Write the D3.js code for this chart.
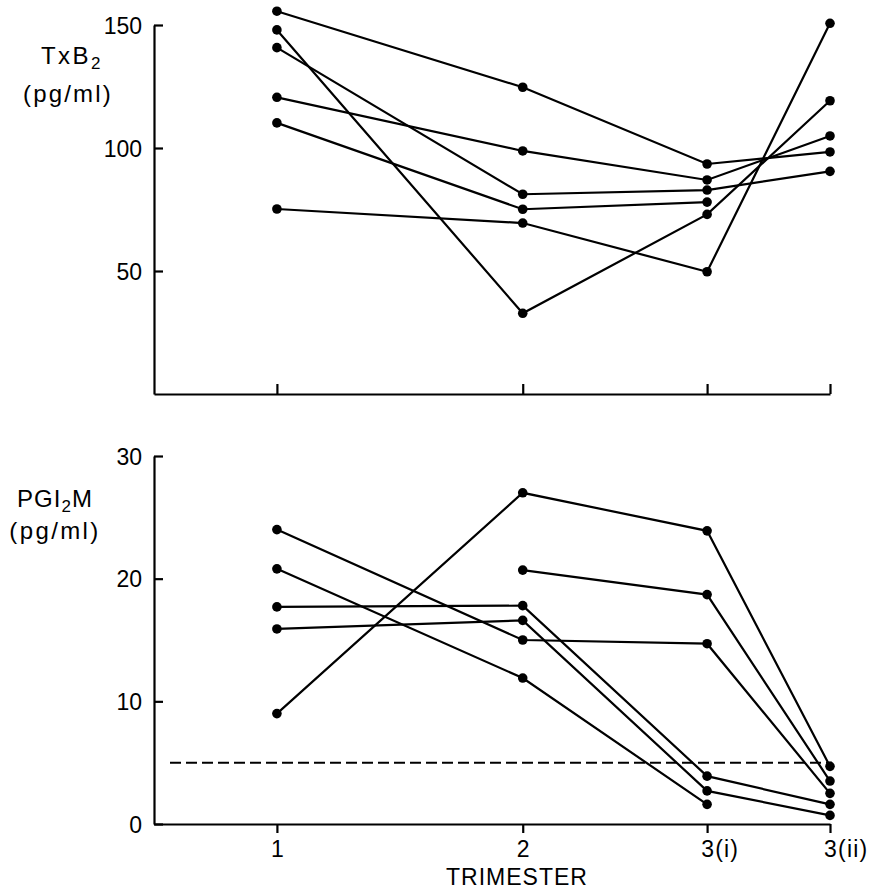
<!DOCTYPE html>
<html>
<head>
<meta charset="utf-8">
<script src="https://cdn.jsdelivr.net/npm/d3@7"></script>
<style>
  html, body { margin: 0; padding: 0; background: #fff; }
  svg { display: block; }
  text { font-family: "Liberation Sans", Arial, Helvetica, sans-serif; fill: #000; }
</style>
</head>
<body>
<svg id="chart" width="871" height="889"></svg>
<script>
// ---- data ----
const categories = ["1", "2", "3(i)", "3(ii)"];
const trimesterPos = [1, 2, 2.75, 3.25];

const txb2Ticks = [50, 100, 150];
const txb2Series = [
  [155.6, 124.7, 93.5, 98.4],
  [148.0, 32.8, 73.0, 119.2],
  [140.8, 81.2, 82.9, 90.5],
  [120.6, 98.8, 87.0, 104.9],
  [110.2, 75.1, 78.0, null],
  [75.2, 69.5, 49.7, 150.7]
];

const pgiTicks = [0, 10, 20, 30];
const pgiSeries = [
  [24.0, 15.0, 14.7, 2.5],
  [20.8, 11.9, 1.6, null],
  [17.7, 17.8, 3.9, 1.6],
  [15.9, 16.6, 2.7, 0.7],
  [9.0, 27.0, 23.9, 4.7],
  [null, 20.7, 18.7, 3.5]
];
const pgiThreshold = 5;

// ---- layout ----
const svg = d3.select("#chart");
const x = d3.scaleLinear().domain([0.5, 3.25]).range([154, 830]);
const yTop = d3.scaleLinear().domain([0, 150]).range([394, 25]);
const yBot = d3.scaleLinear().domain([0, 30]).range([824, 456]);

const FONT = 23;

function styleAxis(g) {
  g.selectAll("path.domain").attr("stroke", "#000").attr("stroke-width", 2.2);
  g.selectAll(".tick line").attr("stroke", "#000").attr("stroke-width", 2.2);
  g.selectAll(".tick text").attr("font-size", FONT).attr("fill", "#000")
    .attr("font-family", '"Liberation Sans", Arial, sans-serif');
}

function drawPanel(yScale, ticks, series, xAxisAtBottom) {
  // y axis
  const ya = svg.append("g").attr("transform", `translate(${x.range()[0]},0)`)
    .call(d3.axisLeft(yScale).tickValues(ticks).tickSizeInner(-9).tickSizeOuter(0)
      .tickPadding(12).tickFormat(d3.format("d")));
  styleAxis(ya);
  ya.selectAll(".tick text").attr("dy", "0.36em");

  // x axis
  const xa = svg.append("g").attr("transform", `translate(0,${yScale.range()[0]})`);
  if (xAxisAtBottom) {
    xa.call(d3.axisBottom(x).tickValues(trimesterPos).tickSizeInner(9).tickSizeOuter(0)
      .tickPadding(8).tickFormat((d, i) => categories[i]));
  } else {
    xa.call(d3.axisBottom(x).tickValues(trimesterPos).tickSizeInner(-10).tickSizeOuter(0)
      .tickFormat(""));
  }
  styleAxis(xa);
  if (xAxisAtBottom) {
    xa.selectAll(".tick text").attr("text-anchor", "start").attr("dx", "-0.28em")
      .attr("letter-spacing", 1.2);
  }

  const line = d3.line()
    .defined(d => d.v != null)
    .x(d => x(d.t))
    .y(d => yScale(d.v));

  series.forEach(s => {
    const pts = s.map((v, i) => ({ t: trimesterPos[i], v }));
    svg.append("path").datum(pts)
      .attr("d", line)
      .attr("fill", "none").attr("stroke", "#000").attr("stroke-width", 2.2);
    svg.selectAll(null).data(pts.filter(p => p.v != null)).enter()
      .append("circle")
      .attr("cx", p => x(p.t)).attr("cy", p => yScale(p.v))
      .attr("r", 4.8).attr("fill", "#000");
  });
}

drawPanel(yTop, txb2Ticks, txb2Series, false);
drawPanel(yBot, pgiTicks, pgiSeries, true);

// threshold dashed line
svg.append("line")
  .attr("x1", x.range()[0] + 16).attr("x2", x.range()[1] + 2)
  .attr("y1", yBot(pgiThreshold)).attr("y2", yBot(pgiThreshold))
  .attr("stroke", "#000").attr("stroke-width", 2)
  .attr("stroke-dasharray", "11,5");

// axis titles
const t1 = svg.append("text").attr("x", 72).attr("y", 64).attr("text-anchor", "middle")
  .attr("font-size", 24).attr("letter-spacing", 2.5);
t1.append("tspan").text("TxB");
t1.append("tspan").attr("font-size", 17).attr("dy", 5).text("2");
svg.append("text").attr("x", 68).attr("y", 102).attr("text-anchor", "middle")
  .attr("font-size", 24).attr("letter-spacing", 2.2).text("(pg/ml)");

const t2 = svg.append("text").attr("x", 55).attr("y", 507).attr("text-anchor", "middle")
  .attr("font-size", 24).attr("letter-spacing", 1);
t2.append("tspan").text("PGI");
t2.append("tspan").attr("font-size", 17).attr("dy", 5).text("2");
t2.append("tspan").attr("dy", -5).text("M");
svg.append("text").attr("x", 55).attr("y", 539).attr("text-anchor", "middle")
  .attr("font-size", 24).attr("letter-spacing", 2.4).text("(pg/ml)");

svg.append("text").attr("x", 517).attr("y", 885).attr("text-anchor", "middle")
  .attr("font-size", 23).attr("letter-spacing", 1).text("TRIMESTER");
</script>
</body>
</html>
